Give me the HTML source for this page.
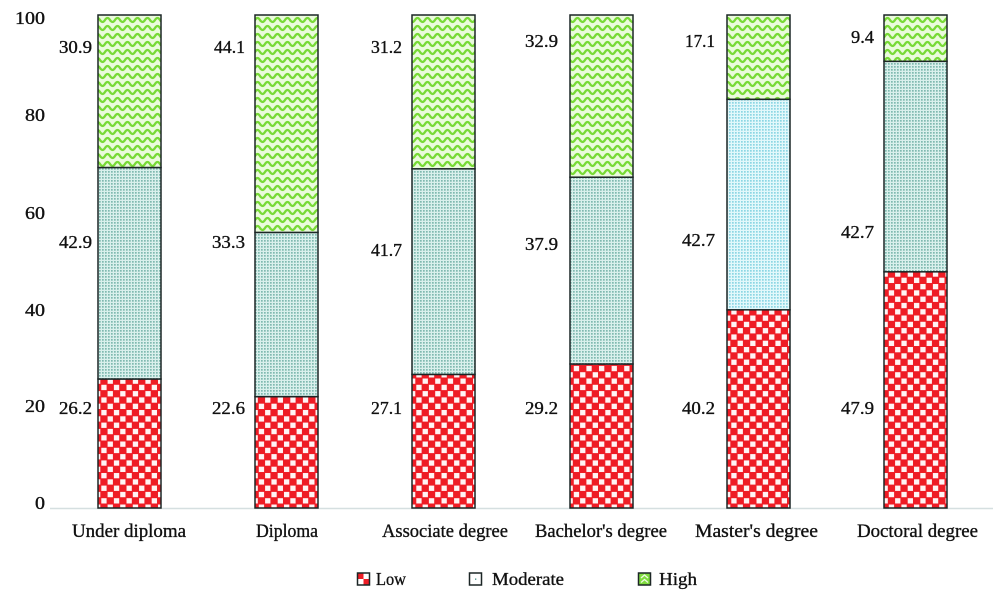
<!DOCTYPE html>
<html>
<head>
<meta charset="utf-8">
<style>
html,body{margin:0;padding:0;background:#fff;}
svg{display:block;}
text{font-family:"Liberation Serif",serif;fill:#111;stroke:#111;stroke-width:0.35;}
</style>
</head>
<body>
<svg width="1000" height="601" viewBox="0 0 1000 601" xmlns="http://www.w3.org/2000/svg">
<defs>
  <pattern id="chk" width="12.6" height="12.6" patternUnits="userSpaceOnUse">
    <rect width="12.6" height="12.6" fill="#ee1c25"/>
    <rect x="6.8" y="0.5" width="5.3" height="5.3" fill="#fff4f4"/>
    <rect x="0.5" y="6.8" width="5.3" height="5.3" fill="#fff4f4"/>
  </pattern>
  <pattern id="dots" width="3" height="3" patternUnits="userSpaceOnUse">
    <rect width="3" height="3" fill="#d9f0ec"/>
    <rect x="0" y="0" width="1.7" height="1.7" fill="#80b9b0"/>
  </pattern>
  <pattern id="dots2" width="3" height="3" patternUnits="userSpaceOnUse">
    <rect width="3" height="3" fill="#e2f8fb"/>
    <rect x="0" y="0" width="1.7" height="1.7" fill="#8cd6e4"/>
  </pattern>
  <pattern id="wave" width="10" height="8" patternUnits="userSpaceOnUse">
    <rect width="10" height="8" fill="#eafbdc"/>
    <path d="M-5 4 Q-2.5 0 0 4 T5 4 T10 4 T15 4" fill="none" stroke="#78da36" stroke-width="2.3"/>
  </pattern>
</defs>

<!-- axis line -->
<line x1="50" y1="508.5" x2="993" y2="508.5" stroke="#d5dfe0" stroke-width="1.5"/>

<!-- y tick labels -->
<g font-size="18" text-anchor="end">
  <text x="45" y="24" textLength="30" lengthAdjust="spacingAndGlyphs">100</text>
  <text x="45" y="121" textLength="20" lengthAdjust="spacingAndGlyphs">80</text>
  <text x="45" y="219" textLength="20" lengthAdjust="spacingAndGlyphs">60</text>
  <text x="45" y="316" textLength="20" lengthAdjust="spacingAndGlyphs">40</text>
  <text x="45" y="412" textLength="20" lengthAdjust="spacingAndGlyphs">20</text>
  <text x="45" y="509" textLength="10" lengthAdjust="spacingAndGlyphs">0</text>
</g>

<!-- bars -->
<g stroke="#1c2626" stroke-width="1.5">
  <rect x="98" y="379" width="63" height="129" fill="url(#chk)"/>
  <rect x="98" y="167.5" width="63" height="211.5" fill="url(#dots)"/>
  <rect x="98" y="15" width="63" height="152.5" fill="url(#wave)"/>

  <rect x="255" y="396.6" width="63" height="111.4" fill="url(#chk)"/>
  <rect x="255" y="232.4" width="63" height="164.2" fill="url(#dots)"/>
  <rect x="255" y="15" width="63" height="217.4" fill="url(#wave)"/>

  <rect x="412" y="374.4" width="63" height="133.6" fill="url(#chk)"/>
  <rect x="412" y="168.8" width="63" height="205.6" fill="url(#dots)"/>
  <rect x="412" y="15" width="63" height="153.8" fill="url(#wave)"/>

  <rect x="570" y="364" width="63" height="144" fill="url(#chk)"/>
  <rect x="570" y="177.2" width="63" height="186.8" fill="url(#dots)"/>
  <rect x="570" y="15" width="63" height="162.2" fill="url(#wave)"/>

  <rect x="727" y="309.8" width="63" height="198.2" fill="url(#chk)"/>
  <rect x="727" y="99.3" width="63" height="210.5" fill="url(#dots2)"/>
  <rect x="727" y="15" width="63" height="84.3" fill="url(#wave)"/>

  <rect x="884" y="271.8" width="63" height="236.2" fill="url(#chk)"/>
  <rect x="884" y="61.3" width="63" height="210.5" fill="url(#dots)"/>
  <rect x="884" y="15" width="63" height="46.3" fill="url(#wave)"/>
</g>

<!-- value labels -->
<g font-size="18" text-anchor="end">
  <text x="92" y="53" textLength="33" lengthAdjust="spacingAndGlyphs">30.9</text>
  <text x="92" y="248" textLength="33" lengthAdjust="spacingAndGlyphs">42.9</text>
  <text x="92" y="414" textLength="33" lengthAdjust="spacingAndGlyphs">26.2</text>

  <text x="245" y="53" textLength="31" lengthAdjust="spacingAndGlyphs">44.1</text>
  <text x="245" y="248" textLength="33" lengthAdjust="spacingAndGlyphs">33.3</text>
  <text x="245" y="414" textLength="33" lengthAdjust="spacingAndGlyphs">22.6</text>

  <text x="402" y="53" textLength="31" lengthAdjust="spacingAndGlyphs">31.2</text>
  <text x="402" y="256" textLength="31" lengthAdjust="spacingAndGlyphs">41.7</text>
  <text x="402" y="414" textLength="31" lengthAdjust="spacingAndGlyphs">27.1</text>

  <text x="558" y="47" textLength="33" lengthAdjust="spacingAndGlyphs">32.9</text>
  <text x="558" y="250" textLength="33" lengthAdjust="spacingAndGlyphs">37.9</text>
  <text x="558" y="414" textLength="33" lengthAdjust="spacingAndGlyphs">29.2</text>

  <text x="715" y="47" textLength="30" lengthAdjust="spacingAndGlyphs">17.1</text>
  <text x="715" y="246" textLength="33" lengthAdjust="spacingAndGlyphs">42.7</text>
  <text x="715" y="414" textLength="33" lengthAdjust="spacingAndGlyphs">40.2</text>

  <text x="874" y="43" textLength="23" lengthAdjust="spacingAndGlyphs">9.4</text>
  <text x="874" y="238" textLength="33" lengthAdjust="spacingAndGlyphs">42.7</text>
  <text x="874" y="414" textLength="33" lengthAdjust="spacingAndGlyphs">47.9</text>
</g>

<!-- category labels -->
<g font-size="19" text-anchor="middle">
  <text x="129" y="537" textLength="114" lengthAdjust="spacingAndGlyphs">Under diploma</text>
  <text x="287" y="537" textLength="62" lengthAdjust="spacingAndGlyphs">Diploma</text>
  <text x="445" y="537" textLength="126" lengthAdjust="spacingAndGlyphs">Associate degree</text>
  <text x="601" y="537" textLength="132" lengthAdjust="spacingAndGlyphs">Bachelor's degree</text>
  <text x="756.5" y="537" textLength="123" lengthAdjust="spacingAndGlyphs">Master's degree</text>
  <text x="917.5" y="537" textLength="121" lengthAdjust="spacingAndGlyphs">Doctoral degree</text>
</g>

<!-- legend -->
<g>
  <rect x="357.5" y="573" width="12" height="12" fill="#ee1c25"/>
  <rect x="363.5" y="573" width="6" height="6" fill="#fff"/>
  <rect x="357.5" y="579" width="6" height="6" fill="#fff"/>
  <rect x="357.5" y="579" width="6" height="6" fill="#ee1c25" opacity="0.0"/>
  <rect x="357.5" y="573" width="12" height="12" fill="none" stroke="#1c2626" stroke-width="1.5"/>
  <text x="376" y="585" font-size="18" textLength="30" lengthAdjust="spacingAndGlyphs">Low</text>

  <rect x="469.5" y="573" width="12" height="12" fill="#fff" stroke="#1c2626" stroke-width="1.5"/>
  <rect x="475" y="578.5" width="1.3" height="1.3" fill="#3a8a80"/>
  <text x="492" y="585" font-size="18" textLength="72" lengthAdjust="spacingAndGlyphs">Moderate</text>

  <rect x="638.5" y="573" width="12" height="12" fill="#7fdc3e" stroke="#1c2626" stroke-width="1.5"/>
  <path d="M641 578 L644.5 575 L648 578 M641 582.5 L644.5 579.5 L648 582.5" fill="none" stroke="#edfbe0" stroke-width="1.3"/>
  <text x="659" y="585" font-size="18" textLength="38" lengthAdjust="spacingAndGlyphs">High</text>
</g>
</svg>
</body>
</html>
